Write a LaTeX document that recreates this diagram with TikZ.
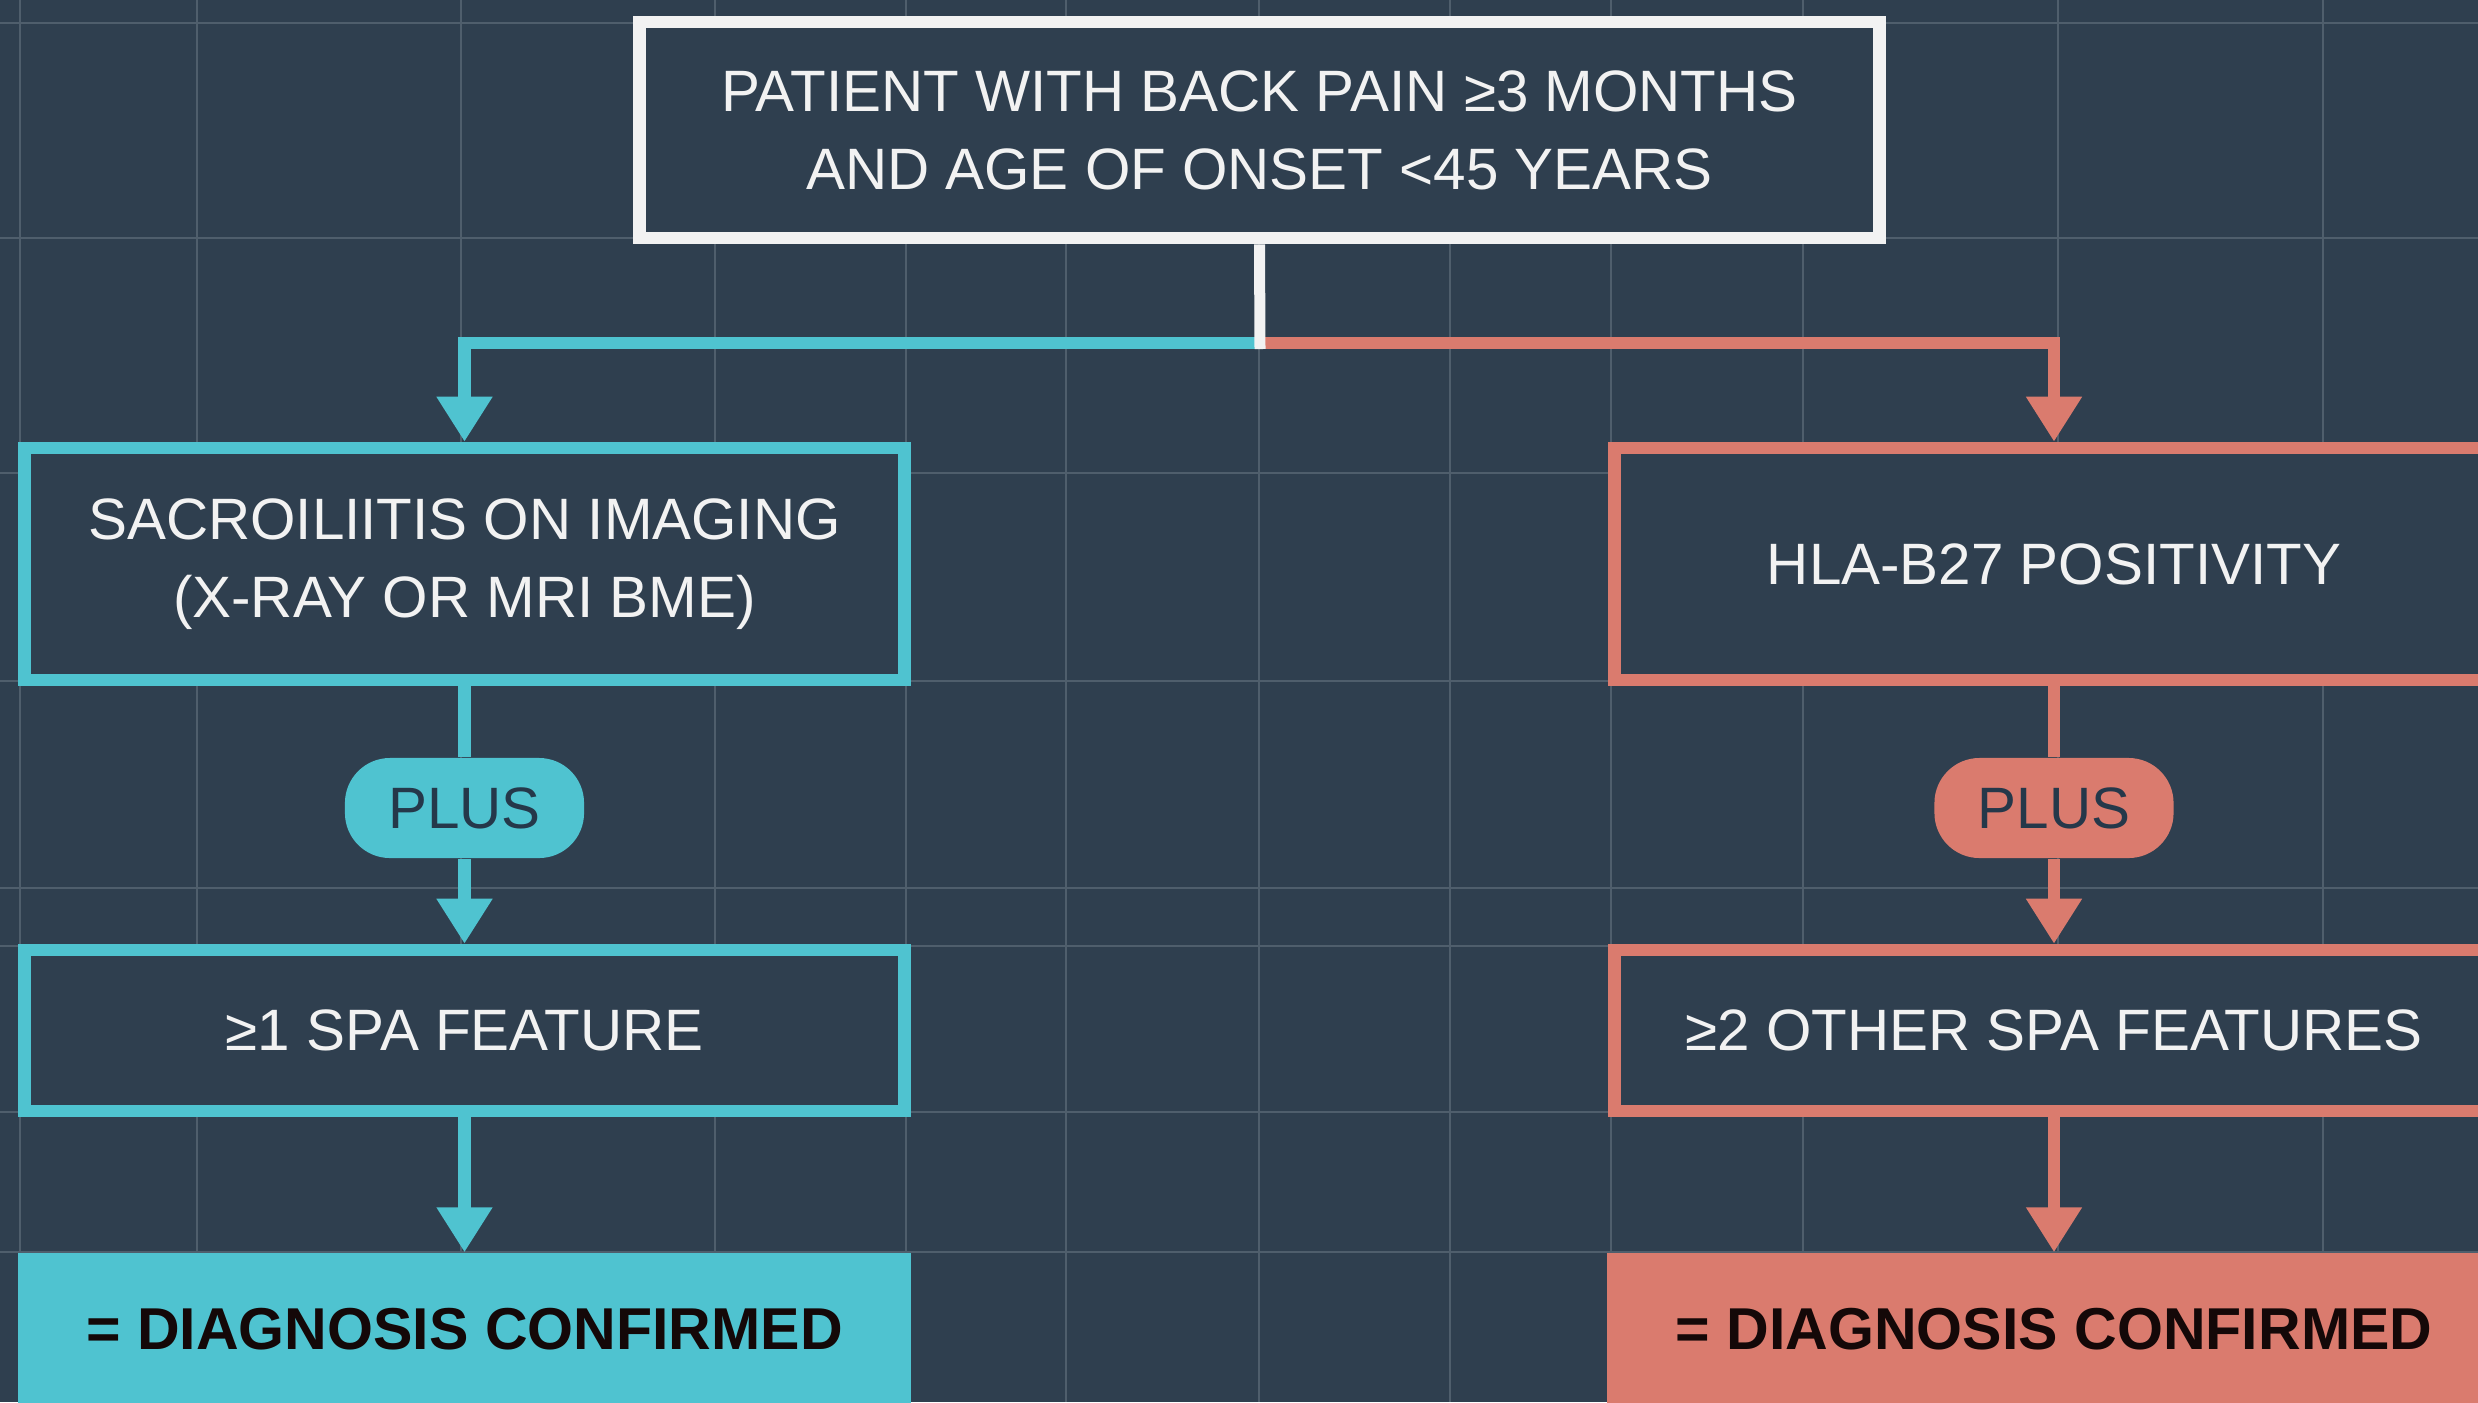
\documentclass[tikz,border=0pt]{standalone}
\usepackage{fontspec}
\setmainfont{Liberation Sans}
\usetikzlibrary{arrows.meta}

\definecolor{bgc}{HTML}{2F3F4F}
\definecolor{gridc}{HTML}{4F5E6C}
\definecolor{branchA}{HTML}{4FC3D0}
\definecolor{branchB}{HTML}{DA7B6E}
\definecolor{ink}{HTML}{F2F2F2}
\definecolor{pillink}{HTML}{25384A}
\definecolor{darkink}{HTML}{140808}

\begin{document}
\begin{tikzpicture}[
  x=0.01cm, y=-0.01cm,
  txt/.style={font=\fontsize{16.6pt}{22.2pt}\selectfont},
  outline/.style={draw, line width=0.125cm, fill=bgc, text=ink, txt,
    align=center, inner sep=0pt},
  topbox/.style={outline, draw=ink, minimum width=12.39cm, minimum height=2.16cm},
  sidebox/.style={outline, minimum width=8.79cm},
  pill/.style={fill=#1, draw=none, rounded corners=0.45cm, text=pillink, txt,
    minimum width=2.39cm, minimum height=1.0cm, inner sep=0pt},
  result/.style={fill=#1, draw=none, text=darkink,
    font=\fontsize{16.8pt}{22pt}\selectfont\bfseries,
    minimum width=8.93cm, minimum height=1.52cm, inner sep=0pt},
  link/.style={line width=0.125cm, line join=miter, draw=#1},
  tip/.style={-{Triangle[width=0.53cm,length=0.45cm]}},
]
% canvas and background grid
\useasboundingbox (0,0) rectangle (2478,1402);
\clip (0,0) rectangle (2478,1402);
\fill[bgc] (0,0) rectangle (2478,1402);
\foreach \gx in {20,197,461,715,906,1066,1259,1450,1611,1803,2058,2323}
  \draw[gridc, line width=0.026cm] (\gx,0) -- (\gx,1402);
\foreach \gy in {23,238,473,681,888,946,1112,1252}
  \draw[gridc, line width=0.026cm] (0,\gy) -- (2478,\gy);

% entry criterion
\node[topbox] (top) at (1259.5,130)
  {PATIENT WITH BACK PAIN ≥3 MONTHS\\AND AGE OF ONSET <45 YEARS};

% imaging arm
\node[sidebox, draw=branchA] (img) at (464.5,564) [minimum height=2.32cm]
  {SACROILIITIS ON IMAGING\\(X-RAY OR MRI BME)};
\node[pill=branchA] (plusA) at (464.5,808) {PLUS};
\node[sidebox, draw=branchA] (featA) at (464.5,1030.5) [minimum height=1.61cm]
  {≥1 SPA FEATURE};
\node[result=branchA] (okA) at (464.5,1329) {= DIAGNOSIS CONFIRMED};

% clinical arm
\node[sidebox, draw=branchB] (hla) at (2054,564) [minimum height=2.32cm]
  {HLA-B27 POSITIVITY};
\node[pill=branchB] (plusB) at (2054,808) {PLUS};
\node[sidebox, draw=branchB] (featB) at (2054,1030.5) [minimum height=1.61cm]
  {≥2 OTHER SPA FEATURES};
\node[result=branchB] (okB) at (2054,1329) {= DIAGNOSIS CONFIRMED};

% split point below the entry box
\coordinate (split) at (1260,343);
\coordinate (stemend) at (1260,349);

% connectors
\draw[link=branchA, tip] (split) -| (img.north);
\draw[link=branchB, tip] (split) -| (hla.north);
\draw[link=ink, line width=0.11cm] (top.south) -- (stemend);

\draw[link=branchA] (img.south) -- (plusA.north);
\draw[link=branchA, tip] (plusA.south) -- (featA.north);
\draw[link=branchA, tip] (featA.south) -- (okA.north);

\draw[link=branchB] (hla.south) -- (plusB.north);
\draw[link=branchB, tip] (plusB.south) -- (featB.north);
\draw[link=branchB, tip] (featB.south) -- (okB.north);
\end{tikzpicture}
\end{document}
